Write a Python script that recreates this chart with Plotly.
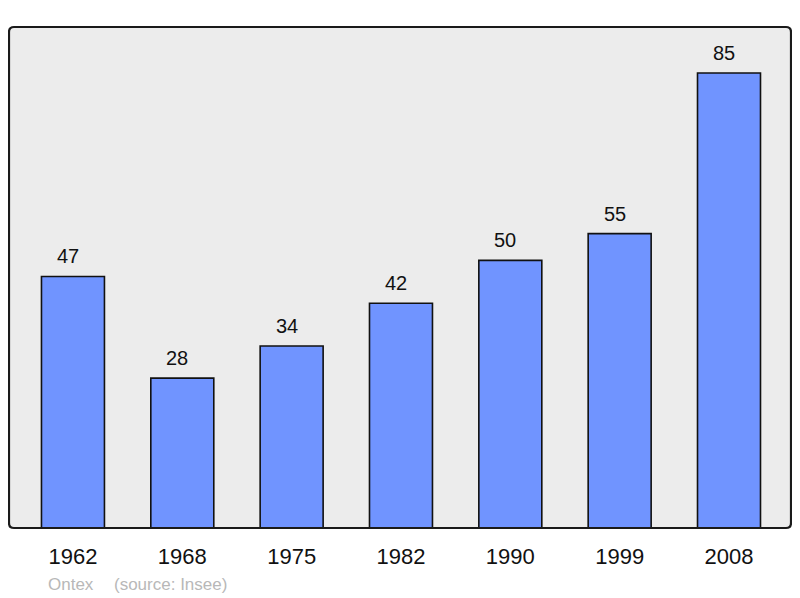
import plotly.graph_objects as go

years = ["1962", "1968", "1975", "1982", "1990", "1999", "2008"]
population = [47, 28, 34, 42, 50, 55, 85]

xs = list(range(len(years)))
FONT = "Liberation Sans, Arial"

fig = go.Figure()
fig.add_trace(go.Bar(
    x=xs, y=population, width=0.576,
    marker=dict(color="#7094FF", line=dict(color="#111111", width=1.6)),
    hoverinfo="skip",
))

for x, v in zip(xs, population):
    fig.add_annotation(x=x, y=v, text=str(v), showarrow=False, yanchor="bottom",
                       yshift=7, xshift=-5, font=dict(family=FONT, size=20, color="#111111"))

fig.add_annotation(xref="paper", yref="paper", x=(46 - 9) / 782, y=-0.112, xanchor="left", yanchor="middle",
                   text="Ontex", showarrow=False,
                   font=dict(family=FONT, size=17, color="#B8B8B8"))
fig.add_annotation(xref="paper", yref="paper", x=(112 - 9) / 782, y=-0.112, xanchor="left", yanchor="middle",
                   text="(source: Insee)", showarrow=False,
                   font=dict(family=FONT, size=17, color="#B8B8B8"))

# rounded border
rx = 5 / 782
ry = 5 / 501
path = (f"M {rx},0 L {1-rx},0 Q 1,0 1,{ry} L 1,{1-ry} Q 1,1 {1-rx},1 "
        f"L {rx},1 Q 0,1 0,{1-ry} L 0,{ry} Q 0,0 {rx},0 Z")
fig.add_shape(type="path", xref="paper", yref="paper", path=path,
              line=dict(color="#1a1a1a", width=2.2), layer="above")

# page body has an 8px margin: shrink figure and shift margins to compensate
fig.update_layout(
    width=792, height=590,
    margin=dict(l=1, r=9, t=19, b=70),
    paper_bgcolor="white", plot_bgcolor="#ECECEC",
    showlegend=False,
    xaxis=dict(range=[-0.585, 6.567], tickvals=xs, ticktext=years, showgrid=False, zeroline=False,
               ticks="outside", ticklen=9, tickcolor="rgba(0,0,0,0)",
               tickfont=dict(family=FONT, size=22, color="#111111"), fixedrange=True),
    yaxis=dict(range=[0, 93.6], showticklabels=False, showgrid=False, zeroline=False, fixedrange=True),
)

fig.write_html("out.html")
